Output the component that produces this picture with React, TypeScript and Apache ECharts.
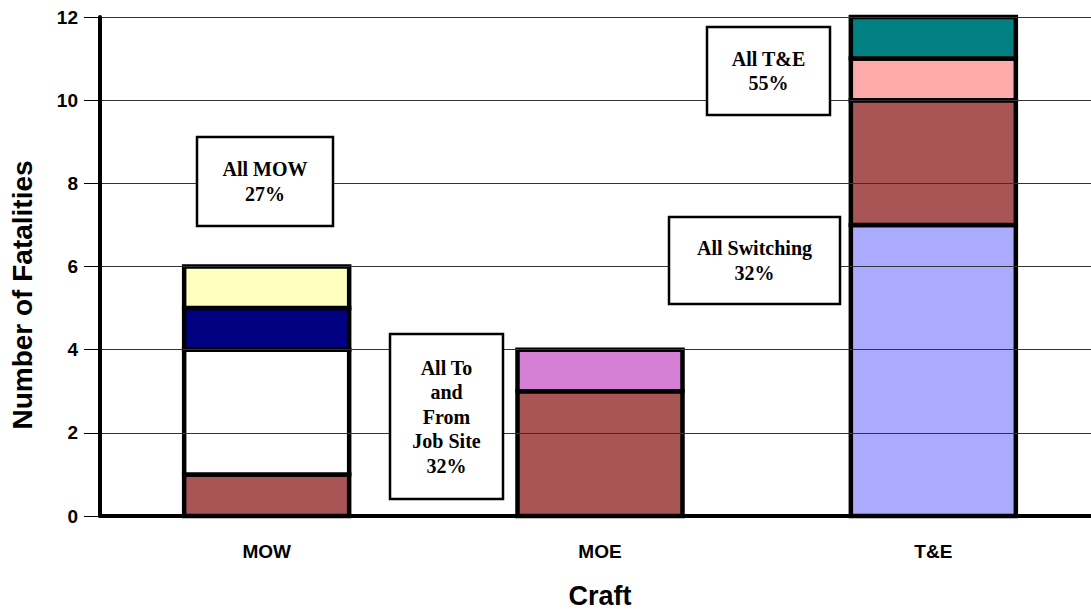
import React, { useEffect, useRef } from "react";
import * as echarts from "echarts";

const categories = ["MOW", "MOE", "T&E"];
const yTicks = { min: 0, max: 12, interval: 2 };

// stacked segments, bottom to top
const seriesNames = ["Switching (T&E)", "To/From Job Site", "MOW segment 2", "MOW segment 3", "MOW segment 4", "MOE segment 2", "T&E segment 3", "T&E segment 4"];
const lavenderVals = [null, null, 7];
const brownVals = [1, 3, 3];
const whiteVals = [3, null, null];
const navyVals = [1, null, null];
const yellowVals = [1, null, null];
const orchidVals = [null, 1, null];
const pinkVals = [null, null, 1];
const tealVals = [null, null, 1];
const seriesValues: (number | null)[][] = [lavenderVals, brownVals, whiteVals, navyVals, yellowVals, orchidVals, pinkVals, tealVals];
const seriesColors = ["#AAAAFF", "#A95555", "#FFFFFF", "#000080", "#FFFFC0", "#D580D5", "#FFAAAA", "#008080"];

const annotations = [
  { text: "All MOW\n27%", x: 197, y: 137, w: 136, h: 89 },
  { text: "All To\nand\nFrom\nJob Site\n32%", x: 390, y: 334, w: 113, h: 165 },
  { text: "All T&E\n55%", x: 707, y: 27, w: 123, h: 88 },
  { text: "All Switching\n32%", x: 669, y: 217, w: 171, h: 87 },
];

export default function App() {
  const ref = useRef<HTMLDivElement>(null);
  useEffect(() => {
    if (!ref.current) return;
    const chart = echarts.init(ref.current, null, { renderer: "svg" });
    const base = categories.map(() => 0);
    const series: any[] = seriesValues.map((vals, i) => {
      const data: any[] = [];
      vals.forEach((v, ci) => {
        if (v == null) return;
        data.push([ci, base[ci], base[ci] + v]);
        base[ci] += v;
      });
      const color = seriesColors[i];
      return {
        name: seriesNames[i],
        type: "custom",
        data,
        encode: { x: 0, y: [1, 2] },
        z: 2,
        renderItem: (params: any, api: any) => {
          const ci = api.value(0);
          const p0 = api.coord([ci, api.value(1)]);
          const p1 = api.coord([ci, api.value(2)]);
          const bw = api.size([1, 0])[0] * 0.495;
          return {
            type: "rect",
            shape: { x: p0[0] - bw / 2, y: p1[1], width: bw, height: p0[1] - p1[1] },
            style: { fill: color, stroke: "#000", lineWidth: 4.5 },
          };
        },
      };
    });
    const graphics: any[] = [];
    annotations.forEach((a) => {
      graphics.push({
        type: "rect",
        shape: { x: a.x, y: a.y, width: a.w, height: a.h },
        style: { fill: "#fff", stroke: "#000", lineWidth: 2.5 },
        z: 100,
      });
      graphics.push({
        type: "text",
        x: a.x + a.w / 2,
        y: a.y + a.h / 2,
        style: {
          text: a.text,
          fill: "#000",
          font: "bold 20px 'Liberation Serif', 'Times New Roman', serif",
          lineHeight: 24.5,
          align: "center",
          verticalAlign: "middle",
        },
        z: 101,
      });
    });
    graphics.push({
      type: "text",
      x: 22,
      y: 295,
      rotation: Math.PI / 2,
      style: {
        text: "Number of Fatalities",
        fill: "#000",
        font: "bold 28px 'Liberation Sans', Arial, sans-serif",
        align: "center",
        verticalAlign: "middle",
      },
    });
    chart.setOption({
      animation: false,
      backgroundColor: "#fff",
      grid: { left: 100, top: 17, width: 1000, height: 499, containLabel: false, outerBoundsMode: "none" },
      xAxis: {
        type: "category",
        data: categories,
        name: "Craft",
        nameLocation: "middle",
        nameGap: 66,
        nameTextStyle: { fontFamily: "'Liberation Sans', Arial, sans-serif", fontWeight: "bold", fontSize: 27, color: "#000" },
        axisLine: { lineStyle: { color: "#000", width: 4 } },
        axisTick: { alignWithLabel: true, length: 12, lineStyle: { color: "#000", width: 1 } },
        axisLabel: { margin: 26, fontFamily: "'Liberation Sans', Arial, sans-serif", fontWeight: "bold", fontSize: 19, color: "#000" },
        z: 10,
      },
      yAxis: {
        type: "value",
        min: yTicks.min,
        max: yTicks.max,
        interval: yTicks.interval,
        axisLine: { show: true, lineStyle: { color: "#000", width: 4 } },
        axisTick: { show: true, length: 16, lineStyle: { color: "#000", width: 1 } },
        axisLabel: { margin: 22, fontFamily: "'Liberation Sans', Arial, sans-serif", fontWeight: "bold", fontSize: 19, color: "#000" },
        splitLine: { show: true, lineStyle: { color: "#333", width: 1 } },
        z: 10,
      },
      series,
      graphic: graphics,
    });
    return () => chart.dispose();
  }, []);
  return <div ref={ref} style={{ position: "fixed", left: 0, top: 0, width: 1091, height: 613 }} />;
}
